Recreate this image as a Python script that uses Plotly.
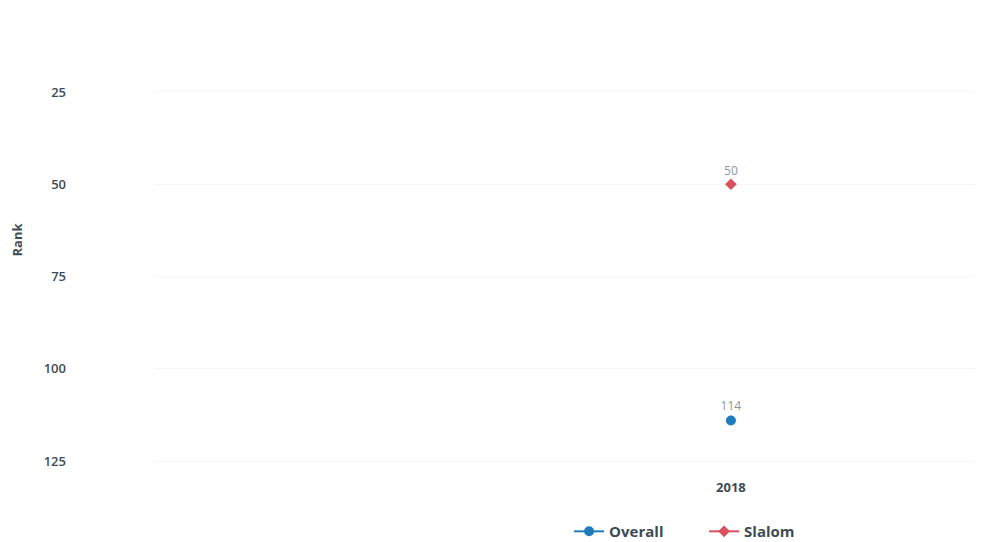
import plotly.graph_objects as go

years = [2018]
overall = [114]
slalom = [50]
ytick_vals = [25, 50, 75, 100, 125]

fig = go.Figure()
fig.add_trace(go.Scatter(
    x=years, y=overall, name="Overall", mode="lines+markers+text",
    text=[str(v) for v in overall], textposition="top center",
    textfont=dict(color="#8a96a0", size=12, family="Open Sans"),
    marker=dict(symbol="circle", size=10, color="#1f7bbd"),
    line=dict(color="#1f7bbd", width=2)))
fig.add_trace(go.Scatter(
    x=years, y=slalom, name="Slalom", mode="lines+markers+text",
    text=[str(v) for v in slalom], textposition="top center",
    textfont=dict(color="#8a96a0", size=12, family="Open Sans"),
    marker=dict(symbol="diamond", size=9, color="#d9505e"),
    line=dict(color="#d9505e", width=2)))

fig.update_layout(
    width=997, height=542,
    margin=dict(l=147, r=30, t=2, b=80, autoexpand=False),
    plot_bgcolor="white", paper_bgcolor="white",
    font=dict(family="Open Sans", color="#4a5a62"),
    xaxis=dict(range=[2013.8, 2019.78], tickvals=years, ticktext=[str(y) for y in years],
               showgrid=False, zeroline=False, showline=False, automargin=False,
               tickfont=dict(size=13, color="#3d4c54", weight=700), ticklabelstandoff=8),
    yaxis=dict(range=[127.4, 2.8], tickvals=ytick_vals, showgrid=True, gridcolor="#f6f6f6",
               zeroline=False, showline=False, automargin=False,
               tickfont=dict(size=13, color="#3d4c54", weight=600),
               ticklabelstandoff=88,
               title=dict(text="Rank", font=dict(size=13, color="#3d4c54", weight=700), standoff=24)),
    legend=dict(orientation="h", x=0.505, xanchor="left", y=-0.098, yanchor="top",
                itemwidth=30, entrywidth=90,
                font=dict(size=15, color="#3d4c54", weight=700)),
    showlegend=True,
)
fig.write_html("out.html")
